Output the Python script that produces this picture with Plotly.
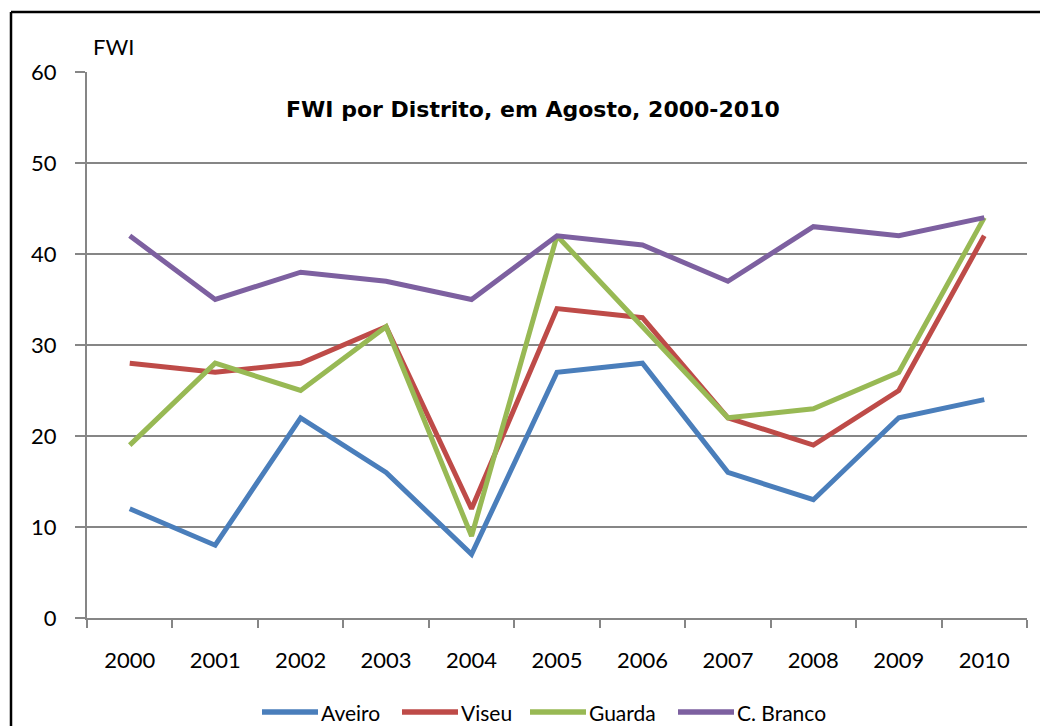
import plotly.graph_objects as go

# FWI (Fire Weather Index) for August, by district
years = ["2000", "2001", "2002", "2003", "2004", "2005", "2006", "2007", "2008", "2009", "2010"]
aveiro = [12, 8, 22, 16, 7, 27, 28, 16, 13, 22, 24]
viseu = [28, 27, 28, 32, 12, 34, 33, 22, 19, 25, 42]
guarda = [19, 28, 25, 32, 9, 42, 32, 22, 23, 27, 44]
c_branco = [42, 35, 38, 37, 35, 42, 41, 37, 43, 42, 44]

series = [
    ("Aveiro", aveiro, "#4A7EBB"),
    ("Viseu", viseu, "#BE4B48"),
    ("Guarda", guarda, "#98B954"),
    ("C. Branco", c_branco, "#7D60A0"),
]

FONT = "Lato"
TITLE_FONT = "DejaVu Sans"
fig = go.Figure()
for name, vals, color in series:
    fig.add_trace(go.Scatter(
        x=years, y=vals, name=name, mode="lines",
        line=dict(color=color, width=5),
    ))

W, H = 1040, 726
L, R, T, B = 87, 13, 72, 108
pw, ph = W - L - R, H - T - B

def px_x(x):
    return (x - L) / pw

def px_y(y):
    return 1 - (y - T) / ph

annotations = [
    dict(text="<b>FWI por Distrito, em Agosto, 2000-2010</b>",
         xref="paper", yref="paper", x=px_x(533), y=px_y(110),
         xanchor="center", yanchor="middle", showarrow=False,
         font=dict(family=TITLE_FONT, size=22, color="black")),
    dict(text="FWI", xref="paper", yref="paper",
         x=px_x(91), y=px_y(47), xanchor="left", yanchor="middle",
         showarrow=False, font=dict(family=FONT, size=22, color="black")),
]
shapes = [
    dict(type="line", xref="paper", yref="paper",
         x0=px_x(11), x1=px_x(1045), y0=px_y(12), y1=px_y(12),
         line=dict(color="black", width=2.5)),
    dict(type="line", xref="paper", yref="paper",
         x0=px_x(11), x1=px_x(11), y0=px_y(12), y1=px_y(730),
         line=dict(color="black", width=2.5)),
]

# horizontal legend along the bottom: swatch line + label per series
legend_x = [262, 402, 530, 678]
swatch_len = 56
legend_y = px_y(712)
for (name, _, color), lx in zip(series, legend_x):
    shapes.append(dict(type="line", xref="paper", yref="paper",
                       x0=px_x(lx), x1=px_x(lx + swatch_len),
                       y0=legend_y, y1=legend_y,
                       line=dict(color=color, width=5.5)))
    annotations.append(dict(text=name, xref="paper", yref="paper",
                            x=px_x(lx + swatch_len + 1), y=legend_y,
                            xanchor="left", yanchor="middle", showarrow=False,
                            font=dict(family=FONT, size=21, color="black")))

fig.update_layout(
    width=W, height=H,
    margin=dict(l=L, r=R, t=T, b=B),
    paper_bgcolor="white", plot_bgcolor="white",
    font=dict(family=FONT, size=22, color="black"),
    showlegend=False,
    xaxis=dict(
        type="category", range=[-0.5, 10.5],
        showgrid=False, showline=True, linecolor="#868686", linewidth=2,
        ticks="outside", tickson="boundaries", ticklen=8, tickwidth=2,
        tickcolor="#868686", ticklabelstandoff=22,
        tickfont=dict(family=FONT, size=22),
        fixedrange=True,
    ),
    yaxis=dict(
        range=[0, 60], dtick=10,
        showgrid=True, gridcolor="#868686", gridwidth=2,
        showline=True, linecolor="#868686", linewidth=2,
        ticks="outside", ticklen=10, tickwidth=2, tickcolor="#868686",
        ticklabelstandoff=14, zeroline=False,
        tickfont=dict(family=FONT, size=22),
    ),
    annotations=annotations,
    shapes=shapes,
)

fig.write_html("out.html")
